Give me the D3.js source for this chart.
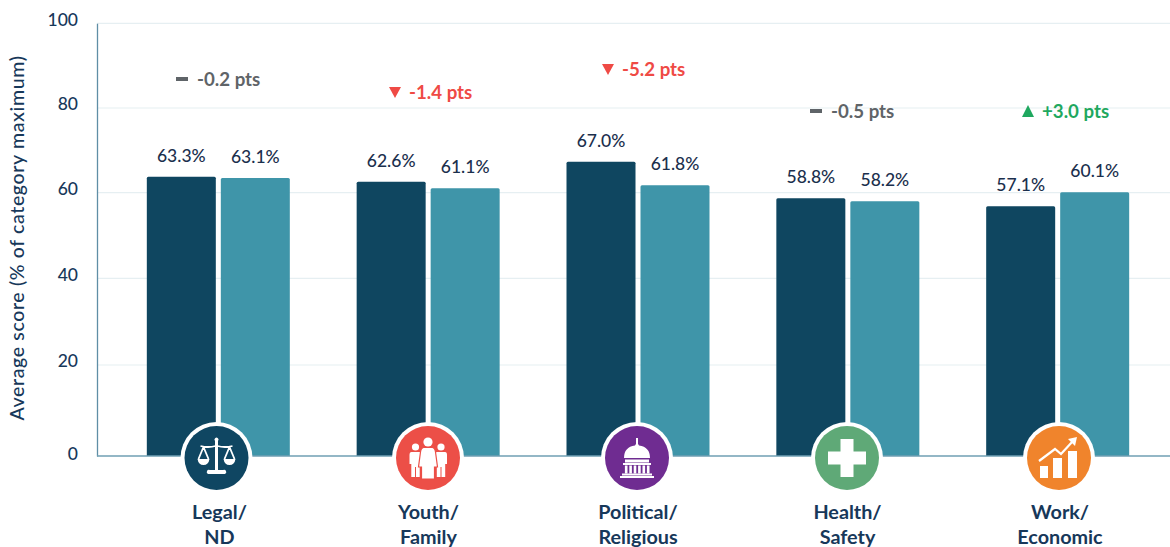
<!DOCTYPE html>
<html><head><meta charset="utf-8">
<script src="https://cdn.jsdelivr.net/npm/d3@7/dist/d3.min.js"></script>
<style>html,body{margin:0;background:#fff}svg{display:block;font-family:Lato,sans-serif}</style>
</head><body><svg id="c" width="1170" height="547"></svg>
<script>
const categories=["Legal/ND","Youth/Family","Political/Religious","Health/Safety","Work/Economic"];
const labelTop=["Legal/","Youth/","Political/","Health/","Work/"];
const labelBottom=["ND","Family","Religious","Safety","Economic"];
const seriesA=[63.3,62.6,67.0,58.8,57.1];
const seriesB=[63.1,61.1,61.8,58.2,60.1];
const deltas=["-0.2 pts","-1.4 pts","-5.2 pts","-0.5 pts","+3.0 pts"];
const deltaKinds=["flat","down","down","flat","up"];
const iconColors=["#0f4662","#ec4f47","#6f2c91","#5fa977","#f0842c"];
const yTicks=[0,20,40,60,80,100];
const kindColor={flat:"#5f6468",down:"#ef4a45",up:"#1fa85f"};
const dark="#0f4660",teal="#3f95a9",ink="#17385a";

const svg=d3.select("#c");
// the picture's vertical scale is not quite even, so knots follow its gridlines and bar tops
const y=d3.scaleLinear().domain([0,20,40,57,60,61,62.6,63.2,67,80,100]).range([456,365,278.3,206.8,192.7,188.7,181.7,177.2,161.7,108,23.3]);
const x0=d3.scaleBand().domain(categories).range([113.4,1162.6]);
const x1=d3.scaleBand().domain(["a","b"]).range([0,143]).paddingInner(5/74);
const off=(x0.bandwidth()-143)/2;

const grid=svg.append("g");
grid.selectAll("line").data(yTicks.filter(d=>d>0)).join("line")
 .attr("x1",97).attr("x2",1170).attr("y1",y).attr("y2",y)
 .attr("stroke","#e6eff2").attr("stroke-width",1.2);

const bars=svg.append("g");
categories.forEach((c,i)=>{
 [["a",seriesA[i],dark],["b",seriesB[i],teal]].forEach(([k,v,col])=>{
  const bx=x0(c)+off+x1(k);
  bars.append("path").attr("fill",col)
   .attr("d",`M${bx},${y(0)}V${y(v)+1.5}q0,-1.5 1.5,-1.5H${bx+x1.bandwidth()-1.5}q1.5,0 1.5,1.5V${y(0)}Z`);
  svg.append("text").attr("x",bx+x1.bandwidth()/2).attr("y",y(v)-15)
   .attr("text-anchor","middle").attr("font-size",17.5).attr("font-weight",500).attr("fill","#1b2f4d").text(v.toFixed(1)+"%");
 });
});

// axes
const ax=svg.append("g").attr("transform","translate(97,0)")
 .call(d3.axisLeft(y).tickValues(yTicks).tickSize(0).tickPadding(19));
ax.select(".domain").attr("stroke","#5f8ea6").attr("stroke-width",1.3);
ax.selectAll("text").attr("font-size",17.5).attr("font-family","Lato,sans-serif").attr("font-weight",500).attr("fill",ink).attr("dy",(d)=>d===0?"0.2em":"0.1em");
svg.append("line").attr("x1",97).attr("x2",1170).attr("y1",y(0)).attr("y2",y(0)).attr("stroke","#6f9fb3").attr("stroke-width",1.3);
svg.append("text").attr("transform","translate(24,238) rotate(-90)").attr("text-anchor","middle")
 .attr("font-size",19.5).attr("letter-spacing",0.65).attr("font-weight",500).attr("fill",ink).text("Average score (% of category maximum)");

// deltas
deltas.forEach((t,i)=>{
 const k=deltaKinds[i],col=kindColor[k],ty=[79,92,69,111,111][i];
 const g=svg.append("g").attr("transform",`translate(${[177,389,602,811,1022][i]},${ty})`);
 if(k==="flat")g.append("rect").attr("x",-1).attr("y",-2).attr("width",12).attr("height",4).attr("fill",col);
 if(k==="down")g.append("path").attr("d","M0,-5H12L6,6Z").attr("fill",col);
 if(k==="up")g.append("path").attr("d","M0,6H12L6,-6Z").attr("fill",col);
 g.append("text").attr("x",20).attr("y",6.5).attr("font-size",18.7).attr("font-weight",700).attr("fill",col).text(t);
});

// icons
const w="#fff";
const icons=[
 g=>{ // scales
  g.append("path").attr("fill",w).attr("d","M-1.5,-17a2,2 0 1 1 3,0L1.5,12H6.5a2,2 0 0 1 2,4H-8.5a2,2 0 0 1 2,-4H-1.5Z");
  g.append("path").attr("fill","none").attr("stroke",w).attr("stroke-width",1.8).attr("d","M-16,-12Q-8,-10 -1,-12M1,-12Q8,-10 16,-12M-13,-11L-18,1M-13,-11L-8,1M13,-11L8,1M13,-11L18,1");
  g.append("path").attr("fill",w).attr("d","M-19,1H-7Q-8,7 -13,7Q-18,7 -19,1ZM7,1H19Q18,7 13,7Q8,7 7,1Z");
 },
 g=>{ // family
  [[-12.5,-11],[13,-11]].forEach(([px,py])=>{
   g.append("circle").attr("cx",px).attr("cy",py).attr("r",3.6).attr("fill",w);
   g.append("path").attr("fill",w).attr("d",`M${px-4},${py+5}H${px+4}Q${px+6},${py+5} ${px+6},${py+8}V${py+17}H${px+4.2}V${py+30}H${px+0.5}V${py+20}H${px-0.5}V${py+30}H${px-4.2}V${py+17}H${px-6}V${py+8}Q${px-6},${py+5} ${px-4},${py+5}Z`);
  });
  g.append("circle").attr("cy",-16).attr("r",4.6).attr("fill",w);
  g.append("path").attr("fill",w).attr("stroke","#ec4f47").attr("stroke-width",1.2).attr("d","M-4.5,-10.5H4.5Q7,-10 7.5,-6L9.5,9H6.5L6.5,21H-6.5L-6.5,9H-9.5L-7.5,-6Q-7,-10 -4.5,-10.5Z");
 },
 g=>{ // capitol
  g.append("path").attr("fill",w).attr("d","M-1,-20H1V-14Q2,-13 2,-12.5Q13,-11 13,0H-13Q-13,-11 -2,-12.5Q-2,-13 -1,-14Z");
  g.append("rect").attr("x",-12).attr("y",1.5).attr("width",24).attr("height",3).attr("fill",w);
  g.append("rect").attr("x",-14).attr("y",5).attr("width",28).attr("height",2).attr("fill",w);
  d3.range(-11,12,4.4).forEach(px=>g.append("rect").attr("x",px-1.1).attr("y",7.5).attr("width",2.6).attr("height",8).attr("fill",w));
  g.append("rect").attr("x",-15).attr("y",15.5).attr("width",30).attr("height",2).attr("fill",w);
  g.append("rect").attr("x",-17).attr("y",18).attr("width",34).attr("height",2).attr("fill",w);
 },
 g=>{ // cross
  g.append("path").attr("fill",w).attr("d","M-6.5,-19H6.5V-6.5H19V6.5H6.5V19H-6.5V6.5H-19V-6.5H-6.5Z");
 },
 g=>{ // growth
  g.append("rect").attr("x",-19).attr("y",8).attr("width",8).attr("height",12).attr("fill",w);
  g.append("rect").attr("x",-6).attr("y",0).attr("width",9).attr("height",20).attr("fill",w);
  g.append("rect").attr("x",9).attr("y",-7).attr("width",9).attr("height",27).attr("fill",w);
  g.append("path").attr("fill","none").attr("stroke",w).attr("stroke-width",2.2).attr("d","M-20,3L-4,-9L2,-4L14,-17");
  g.append("path").attr("fill",w).attr("d","M9,-19L18,-21L16,-12Z");
 }
];
categories.forEach((c,i)=>{
 const g=svg.append("g").attr("transform",`translate(${[216.5,428,637,847,1059][i]},458)`);
 g.append("circle").attr("r",36).attr("fill","#fff");
 g.append("circle").attr("r",32).attr("fill",iconColors[i]);
 icons[i](g);
 const t=svg.append("text").attr("text-anchor","middle").attr("font-size",19.8).attr("font-weight",700).attr("fill",ink);
 const tx=[219.5,428.5,638,847.5,1060][i];
 t.append("tspan").attr("x",tx).attr("y",519).text(labelTop[i]);
 t.append("tspan").attr("x",tx).attr("y",544).text(labelBottom[i]);
});
</script></body></html>
